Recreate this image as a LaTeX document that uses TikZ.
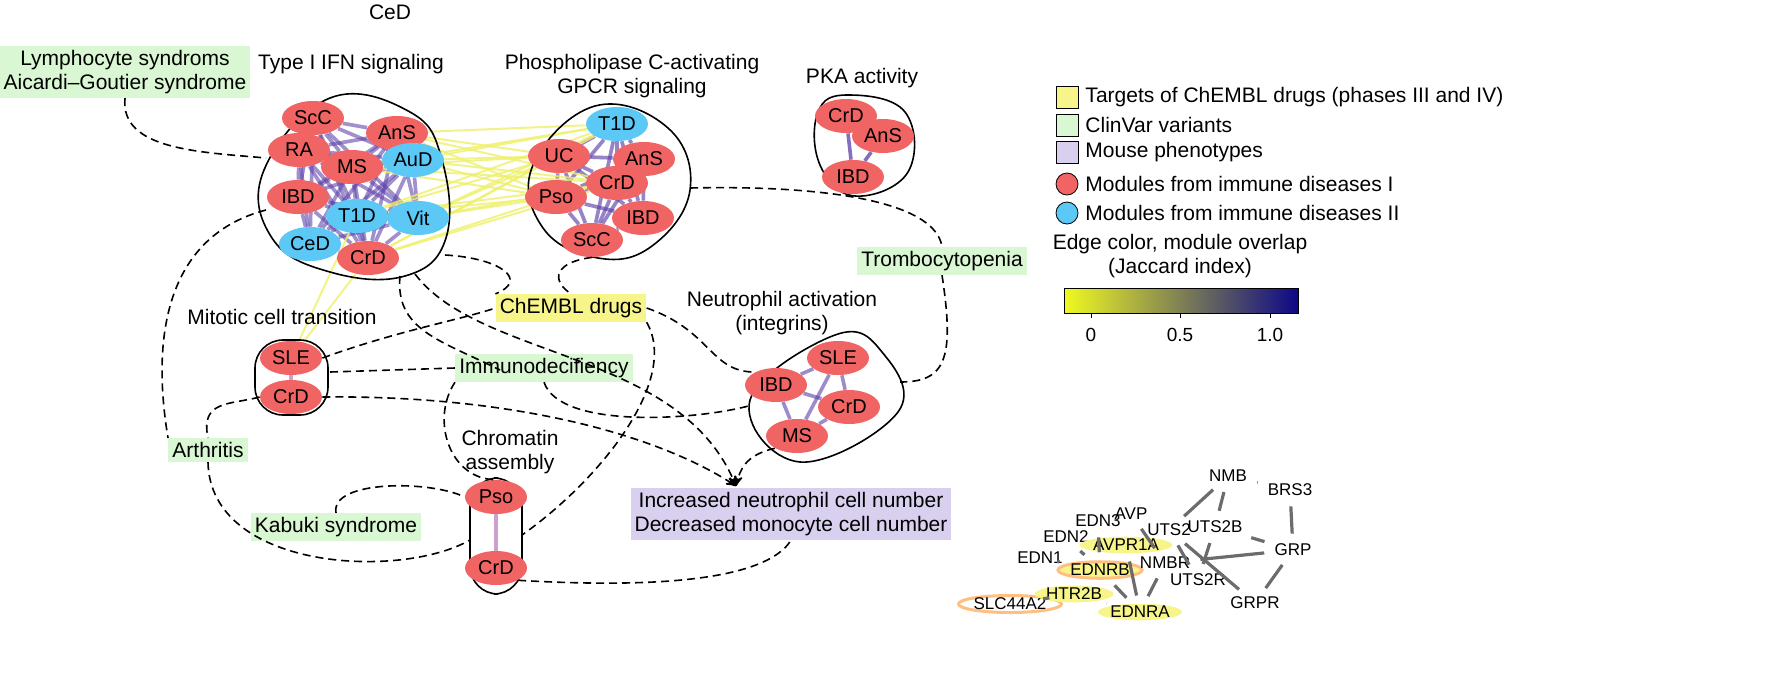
\documentclass[tikz,border=0pt]{standalone}
\usepackage{fontspec}
\setmainfont{Liberation Sans}
\usetikzlibrary{arrows,shapes.geometric,backgrounds}

\definecolor{redmod}{HTML}{F06464}
\definecolor{bluemod}{HTML}{5BC8F5}
\definecolor{clinvar}{HTML}{D9F7D2}
\definecolor{chembl}{HTML}{F7F58A}
\definecolor{mouse}{HTML}{D9D0EF}
\definecolor{overlap}{HTML}{5B3FA8}
\definecolor{lowoverlap}{HTML}{EEF06A}
\definecolor{barlow}{HTML}{F0F921}
\definecolor{barmid}{HTML}{CC4778}
\definecolor{barhigh}{HTML}{0D0887}

\begin{document}
\begin{tikzpicture}[x=0.5pt,y=-0.5pt,>=stealth',
    font=\fontsize{10.5}{12}\selectfont,
    mod/.style={ellipse,fill=redmod,inner sep=0pt,minimum width=31pt,minimum height=17pt,
      font=\fontsize{10}{11}\selectfont},
    modb/.style={mod,fill=bluemod},
    blob/.style={draw=black,line width=0.8pt},
    tag/.style={align=center,inner sep=2pt},
    clin/.style={tag,fill=clinvar},
    drug/.style={tag,fill=chembl},
    pheno/.style={tag,fill=mouse},
    link/.style={line width=0.8pt,dash pattern=on 4pt off 2.5pt},
    inner/.style={overlap,opacity=0.75,line width=1.8pt},
    cross/.style={lowoverlap,opacity=0.8,line width=1pt},
    gene/.style={inner sep=1pt,font=\fontsize{8.5}{10}\selectfont},
    geneY/.style={gene,ellipse,inner sep=0pt,fill=chembl},
    gedge/.style={gray!85!black,line width=1.6pt,shorten >=4pt,shorten <=4pt},
    legfont/.style={font=\fontsize{10.5}{12}\selectfont}]

  \useasboundingbox (0,0) rectangle (1765,681);
  \clip (0,0) rectangle (1765,681);

  % titles
  \node at (390,12) {CeD};
  \node at (351,64) {Type I IFN signaling};
  \node[align=center] at (632,76) {Phospholipase C-activating\\GPCR signaling};
  \node at (862,78) {PKA activity};
  \node at (282,317) {Mitotic cell transition};
  \node[align=center] at (782,313) {Neutrophil activation\\(integrins)};
  \node[align=center] at (510,452) {Chromatin\\assembly};

  % outlines
  \draw[blob] plot[smooth cycle,tension=0.7] coordinates
    {(330,98) (410,112) (442,160) (446,238) (405,276) (330,272) (272,238) (264,170)};
  \draw[blob] plot[smooth cycle,tension=0.7] coordinates
    {(595,106) (668,128) (690,190) (652,246) (598,258) (543,228) (533,165)};
  \draw[blob] plot[smooth cycle,tension=0.7] coordinates
    {(848,95) (905,112) (908,172) (855,196) (820,165) (818,112)};
  \draw[blob,rounded corners=14pt] (255,340) rectangle (328,415);
  \draw[blob] plot[smooth cycle,tension=0.7] coordinates
    {(835,335) (882,352) (898,412) (800,462) (750,400)};
  \draw[blob,rounded corners=14pt] (470,478) rectangle (522,594);

  % modules, Type I IFN signaling
  \node[mod]  (aScC) at (313,118) {ScC};
  \node[mod]  (aAnS) at (397,133) {AnS};
  \node[mod]  (aRA)  at (299,150) {RA};
  \node[mod]  (aMS)  at (352,167) {MS};
  \node[modb] (aAuD) at (413,160) {AuD};
  \node[mod]  (aIBD) at (298,197) {IBD};
  \node[modb] (aT1D) at (357,216) {T1D};
  \node[modb] (aVit) at (418,218) {Vit};
  \node[modb] (aCeD) at (310,244) {CeD};
  \node[mod]  (aCrD) at (368,258) {CrD};
  % Phospholipase C
  \node[modb] (bT1D) at (617,124) {T1D};
  \node[mod]  (bUC)  at (559,156) {UC};
  \node[mod]  (bAnS) at (644,159) {AnS};
  \node[mod]  (bCrD) at (617,183) {CrD};
  \node[mod]  (bPso) at (556,197) {Pso};
  \node[mod]  (bIBD) at (643,218) {IBD};
  \node[mod]  (bScC) at (592,240) {ScC};
  % PKA
  \node[mod] (cCrD) at (846,116) {CrD};
  \node[mod] (cAnS) at (883,136) {AnS};
  \node[mod] (cIBD) at (853,177) {IBD};
  % mitotic
  \node[mod] (dSLE) at (291,358) {SLE};
  \node[mod] (dCrD) at (291,397) {CrD};
  % neutrophil
  \node[mod] (eSLE) at (838,358) {SLE};
  \node[mod] (eIBD) at (776,385) {IBD};
  \node[mod] (eCrD) at (849,407) {CrD};
  \node[mod] (eMS)  at (797,436) {MS};
  % chromatin
  \node[mod] (fPso) at (496,497) {Pso};
  \node[mod] (fCrD) at (496,568) {CrD};

  % module edges
  \begin{pgfonlayer}{background}
    \foreach \a in {ScC,AnS,RA,MS,AuD,IBD,T1D,Vit,CeD,CrD}
      \foreach \b in {ScC,AnS,RA,MS,AuD,IBD,T1D,Vit,CeD,CrD}
        \draw[inner,opacity=0.35] (a\a) -- (a\b);
    \foreach \a in {T1D,UC,AnS,CrD,Pso,IBD,ScC}
      \foreach \b in {T1D,UC,AnS,CrD,Pso,IBD,ScC}
        \draw[inner,opacity=0.4] (b\a) -- (b\b);
    \foreach \a/\b in {CrD/AnS,CrD/IBD,AnS/IBD}
      \draw[inner] (c\a) -- (c\b);
    \draw[inner,violet!50] (dSLE) -- (dCrD);
    \draw[inner,violet!50] (fPso) -- (fCrD);
    \foreach \a/\b in {SLE/IBD,SLE/CrD,SLE/MS,IBD/CrD,IBD/MS,CrD/MS}
      \draw[inner,opacity=0.6] (e\a) -- (e\b);
    \foreach \a in {AnS,AuD,MS,Vit,CrD,T1D}
      \foreach \b in {UC,Pso,T1D,CrD}
        \draw[cross] (a\a) -- (b\b);
    \draw[cross] (aT1D) -- (dSLE);
    \draw[cross] (aCrD) -- (dSLE);
  \end{pgfonlayer}

  % labels
  \node[clin] (lymph) at (125,72) {Lymphocyte syndroms\\Aicardi–Goutier syndrome};
  \node[clin] (tromb) at (942,261) {Trombocytopenia};
  \node[clin] (immuno) at (544,368) {Immunodecifiency};
  \node[clin] (arth) at (208,450) {Arthritis};
  \node[clin] (kabuki) at (336,527) {Kabuki syndrome};
  \node[drug] (drugs) at (571,308) {ChEMBL drugs};
  \node[pheno] (neutro) at (791,514) {Increased neutrophil cell number\\Decreased monocyte cell number};

  % connectors
  \coordinate (tip) at (736,486);
  \draw[link] (lymph.south) .. controls (120,150) and (200,152) .. (266,158);
  \draw[link] (266,210) .. controls (170,235) and (150,330) .. (arth.north west);
  \draw[link] (arth.south) .. controls (210,570) and (400,580) .. (470,540);
  \draw[link] (dCrD.west) .. controls (230,405) and (200,400) .. (arth.north);
  \draw[link] (kabuki.north) .. controls (330,480) and (430,480) .. (fPso.west);
  \draw[link] (dSLE.east) .. controls (400,330) and (460,320) .. (drugs.west);
  \draw[link] (330,372) -- (immuno.west);
  \draw[link,->] (dCrD.east) .. controls (500,395) and (650,430) .. (tip);
  \draw[link] (445,255) .. controls (500,258) and (530,280) .. (drugs.north west);
  \draw[link] (400,276) .. controls (395,330) and (440,340) .. (500,370);
  \draw[link,->] (415,274) .. controls (480,360) and (680,350) .. (tip);
  \draw[link] (bScC.south) .. controls (555,262) and (550,280) .. (drugs.north);
  \draw[link] (drugs.east) .. controls (710,330) and (710,370) .. (752,372);
  \draw[link] (drugs.south east) .. controls (680,380) and (600,480) .. (522,535);
  \draw[link] (immuno.south west) .. controls (430,420) and (450,480) .. (fPso.north);
  \draw[link] (immuno.south) .. controls (560,430) and (700,420) .. (752,405);
  \draw[link,->] (eMS.south west) .. controls (745,455) and (740,470) .. (tip);
  \draw[link] (690,188) .. controls (820,185) and (935,200) .. (tromb.north);
  \draw[link] (tromb.south) .. controls (955,360) and (945,382) .. (900,382);
  \draw[link] (fCrD.south east) .. controls (600,585) and (760,590) .. (neutro.south);

  % legend
  \foreach \c/\t [count=\i] in {chembl/Targets of ChEMBL drugs (phases III and IV),
      clinvar/ClinVar variants, mouse/Mouse phenotypes}
    \node[draw,fill=\c,minimum size=11pt,inner sep=0pt,
      label={[legfont]right:\t}] (key\i) at (1067,70+27.5*\i) {};
  \node[circle,draw,fill=redmod,minimum size=11pt,inner sep=0pt,
    label={[legfont]right:Modules from immune diseases I}] (keyred) at (1067,184) {};
  \node[circle,draw,fill=bluemod,minimum size=11pt,inner sep=0pt,
    label={[legfont]right:Modules from immune diseases II}] (keyblue) at (1067,213) {};
  \node[align=center,legfont] at (1180,256) {Edge color, module overlap\\(Jaccard index)};
  \shade[left color=barlow,middle color=barmid,right color=barhigh]
    (1064,288) rectangle (1298,313);
  \draw (1064,288) rectangle (1298,313);
  \foreach \v/\x in {0/1091,0.5/1180,1.0/1270} {
    \draw (\x,313) -- (\x,318);
    \node[font=\fontsize{9.5}{11}\selectfont] at (\x,335) {\v};
  }

  % gene network
  \node[gene] (NMB) at (1228,476) {NMB};
  \node[gene] (BRS3) at (1290,490) {BRS3};
  \node[gene] (EDN3) at (1098,521) {EDN3};
  \node[gene] (AVP) at (1131,514) {AVP};
  \node[gene] (UTS2) at (1169,530) {UTS2};
  \node[gene] (UTS2B) at (1215,527) {UTS2B};
  \node[gene] (EDN2) at (1066,537) {EDN2};
  \node[gene] (GRP) at (1293,550) {GRP};
  \node[gene] (EDN1) at (1040,558) {EDN1};
  \node[geneY] (AVPR1A) at (1126,545) {AVPR1A};
  \node[geneY,draw=orange!50,line width=1.5pt] (EDNRB) at (1100,570) {EDNRB};
  \node[gene] (NMBR) at (1165,563) {NMBR};
  \node[gene] (UTS2R) at (1198,580) {UTS2R};
  \node[gene,ellipse,inner sep=0pt,draw=orange!50,line width=1.5pt] (SLC) at (1010,604) {SLC44A2};
  \node[geneY] (HTR2B) at (1074,594) {HTR2B};
  \node[geneY] (EDNRA) at (1140,612) {EDNRA};
  \node[gene] (GRPR) at (1255,603) {GRPR};
  \foreach \a/\b in {NMB/BRS3,NMB/UTS2,NMB/UTS2B,BRS3/GRP,UTS2B/GRP,GRP/NMBR,
      UTS2/UTS2R,UTS2B/UTS2R,GRP/GRPR,EDN1/EDNRB,EDN2/EDNRB,EDN3/EDNRB,
      AVP/NMBR,AVPR1A/EDNRA,SLC/HTR2B,EDNRB/EDNRA,HTR2B/EDNRA,UTS2/GRPR,NMBR/EDNRA}
    \draw[gedge] (\a) -- (\b);
\end{tikzpicture}
\end{document}
